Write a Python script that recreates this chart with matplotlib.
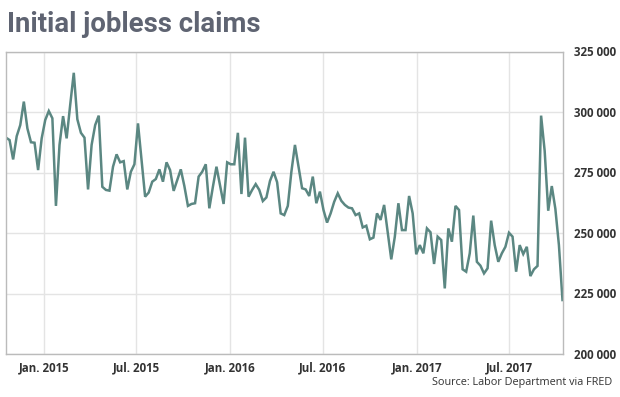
import numpy as np
import pandas as pd
import matplotlib
matplotlib.use("Agg")
import matplotlib.pyplot as plt
from matplotlib.ticker import FuncFormatter

# weekly initial claims (thousands), week ending Saturday, Oct 18 2014 - Oct 14 2017
start = "2014-10-18"
claims_k = [
    289.4, 288.4, 280.4, 290.0, 294.6, 304.3, 293.2, 287.5, 287.3, 276.0,
    289.1, 296.7, 300.4, 297.4, 261.2, 286.4, 298.3, 289.1, 303.0, 316.2,
    297.0, 291.4, 289.4, 268.0, 286.4, 294.6, 298.5, 269.1, 267.8, 267.5,
    277.4, 282.5, 279.2, 279.7, 268.0, 275.3, 278.4, 295.3, 280.0, 265.0,
    266.7, 271.2, 272.3, 276.3, 271.2, 279.2, 276.0, 267.4, 271.9, 276.3,
    269.4, 261.2, 262.0, 262.3, 273.3, 275.3, 278.4, 260.2, 269.1, 277.4,
    269.8, 262.0, 279.2, 278.4, 278.4, 291.4, 266.1, 289.4, 265.0, 267.8,
    270.2, 267.8, 263.2, 264.7, 271.5, 275.3, 271.0, 258.1, 257.4, 261.2,
    275.3, 286.4, 277.4, 268.5, 268.0, 265.3, 273.3, 262.3, 267.1, 259.5,
    254.3, 258.1, 262.9, 266.4, 263.3, 261.6, 260.5, 260.2, 257.4, 258.1,
    252.3, 253.0, 247.4, 248.1, 258.1, 255.4, 261.6, 250.5, 239.1, 248.5,
    262.3, 251.2, 251.2, 265.3, 258.1, 241.2, 245.0, 241.6, 251.9, 250.3,
    237.2, 248.5, 247.1, 227.1, 251.9, 246.4, 261.2, 259.5, 235.0, 234.0,
    241.6, 257.2, 238.1, 236.5, 233.3, 235.4, 255.1, 245.0, 238.1, 241.6,
    244.3, 250.1, 248.5, 234.0, 245.0, 241.3, 244.3, 232.2, 235.0, 236.4,
    298.5, 284.0, 259.2, 269.4, 260.0, 245.0, 222.3,
]
dates = pd.date_range(start, periods=len(claims_k), freq="7D")
claims = np.array(claims_k) * 1000

y_ticks = [200000, 225000, 250000, 275000, 300000, 325000]
x_ticks = pd.to_datetime(["2015-01-01", "2015-07-01", "2016-01-01",
                          "2016-07-01", "2017-01-01", "2017-07-01"])
x_labels = ["Jan. 2015", "Jul. 2015", "Jan. 2016", "Jul. 2016", "Jan. 2017", "Jul. 2017"]

fig = plt.figure(figsize=(6.2, 3.97), dpi=100)
ax = fig.add_axes([6 / 620, 43 / 397, 557 / 620, 302.5 / 397])

ax.plot(dates, claims, color="#5b8782", lw=1.8, solid_joinstyle="miter")

ax.set_xlim(dates[0], dates[-1] + pd.Timedelta(days=1))
ax.set_ylim(200000, 325000)

ax.set_yticks(y_ticks)
ax.yaxis.set_major_formatter(FuncFormatter(lambda v, p: f"{v:,.0f}".replace(",", " ")))
ax.yaxis.tick_right()
ax.set_xticks(x_ticks)
ax.set_xticklabels(x_labels)

ax.grid(True, color="#e4e4e4", lw=1)
ax.set_axisbelow(True)
ax.tick_params(length=0, labelsize=8.3, colors="#333333")
ax.tick_params(axis="y", pad=8)
ax.tick_params(axis="x", pad=5)
for lab in ax.get_xticklabels() + ax.get_yticklabels():
    lab.set_family(["Open Sans", "DejaVu Sans"])
    lab.set_fontweight("bold")

for s in ax.spines.values():
    s.set_color("#bbbbbb")
    s.set_linewidth(1)

fig.text(7 / 620, 1 - 31.5 / 397, "Initial jobless claims", family=["Roboto", "DejaVu Sans"],
         fontweight="bold", fontsize=19.8, color="#5f6472", va="baseline")
fig.text(612 / 620, 1 - 382 / 397, "Source: Labor Department via FRED",
         family=["Open Sans", "DejaVu Sans"], fontsize=7.8, color="#333333",
         ha="right", va="center")

fig.savefig("out.png", dpi=100)
